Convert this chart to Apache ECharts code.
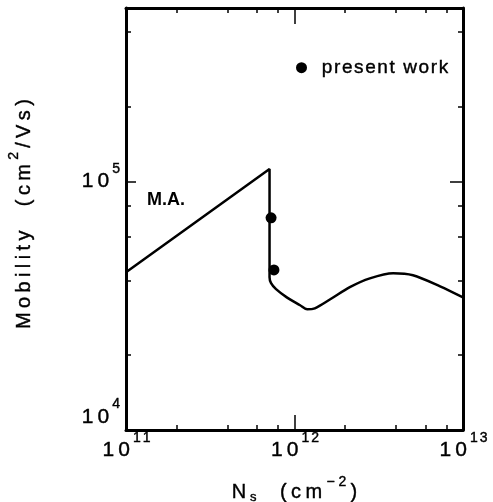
<!DOCTYPE html>
<html>
<head>
<meta charset="utf-8">
<script src="https://cdn.jsdelivr.net/npm/echarts@6/dist/echarts.min.js"></script>
<style>
html,body{margin:0;padding:0;background:#fff;}
#chart{width:493px;height:502px;}
</style>
</head>
<body>
<div id="chart"></div>
<script>
// Data
const curveNs = [1e11, 7.11e11, 7.11e11, 7.26e11, 7.77e11, 9.0e11, 1.08e12, 1.19e12, 1.32e12, 1.63e12, 2.13e12, 2.8e12, 3.85e12, 5.05e12, 7.31e12, 1e13];
const curveMu = [4.32e4, 1.124e5, 4.12e4, 3.90e4, 3.69e4, 3.42e4, 3.18e4, 3.06e4, 3.09e4, 3.36e4, 3.76e4, 4.08e4, 4.28e4, 4.20e4, 3.79e4, 3.42e4];
const presentNs = [7.26e11, 7.55e11];
const presentMu = [7.15e4, 4.41e4];
const xMajorTicks = [1e11, 1e12, 1e13];
const xMinorTicks = [2e11, 4e11, 6e11, 8e11, 2e12, 4e12, 6e12, 8e12];
const yMajorTicks = [1e4, 1e5];
const yMinorTicks = [2e4, 4e4, 6e4, 8e4, 2e5, 4e5];
const maLabelPos = [1.73e11, 8.45e4];

const FONT = 'Liberation Sans';
const INK = {color: '#000', textBorderColor: '#000', textBorderWidth: 0.4};
// letter-spaced text helper (one rich token per character)
const spaced = (str, style) => str.split('').map(c => '{' + style + '|' + c + '}').join('');

const tickRich = {
  b: Object.assign({fontSize: 21, fontFamily: FONT, lineHeight: 21, padding: [0, 2, 0, 2]}, INK),
  s: Object.assign({fontSize: 14, fontFamily: FONT, lineHeight: 14, padding: [0, 1, 25, 1]}, INK),
  b2: Object.assign({fontSize: 21, fontFamily: FONT, lineHeight: 21, padding: [0, 2, 26, 2]}, INK),
  s2: Object.assign({fontSize: 14, fontFamily: FONT, lineHeight: 14, padding: [0, 1, 51, 1]}, INK)
};
const powFmt = v => {
  const e = String(Math.round(Math.log10(v)));
  if (e === '4') return spaced('10', 'b2') + spaced(e, 's2');
  return spaced('10', 'b') + spaced(e, 's');
};
const titleRich = {
  t: Object.assign({fontSize: 20, fontFamily: FONT, lineHeight: 20, padding: [0, 2.2, 0, 2.2]}, INK),
  tStart: Object.assign({fontSize: 20, fontFamily: FONT, lineHeight: 20, padding: [0, 2.2, 0, 12]}, INK),
  sub: Object.assign({fontSize: 13, fontFamily: FONT, lineHeight: 13, padding: [10, 1.5, 0, 1.5]}, INK),
  sup: Object.assign({fontSize: 14, fontFamily: FONT, lineHeight: 14, padding: [0, 2, 20, 2]}, INK)
};

function mkAxis(extra) {
  return Object.assign({
    type: 'log', logBase: 10,
    axisLine: {show: true, lineStyle: {color: '#000', width: 3}},
    splitLine: {show: false},
    minorTick: {show: false},
    axisLabel: {show: false},
    axisTick: {show: true, inside: true, length: 5, lineStyle: {color: '#000', width: 1.5}}
  }, extra);
}

const xAxes = [
  mkAxis({min: 1e11, max: 1e13, position: 'bottom',
    axisTick: {show: true, inside: true, length: 15, customValues: [1e12], lineStyle: {color: '#000', width: 1.5}},
    axisLabel: {show: true, customValues: xMajorTicks, formatter: powFmt, rich: tickRich, margin: 10},
    name: spaced('N', 't') + spaced('s', 'sub') + spaced('  (cm', 't') + spaced('−2', 'sup') + spaced(')', 't'),
    nameLocation: 'middle', nameGap: 38,
    nameTextStyle: {rich: titleRich}
  }),
  mkAxis({min: 1e11, max: 1e13, position: 'bottom', axisLine: {show: false},
    axisTick: {show: true, inside: true, length: 5, customValues: xMinorTicks, lineStyle: {color: '#000', width: 1.5}}}),
  mkAxis({min: 1e11, max: 1e13, position: 'top',
    axisTick: {show: true, inside: true, length: 16, customValues: [1e12], lineStyle: {color: '#000', width: 1.5}}}),
  mkAxis({min: 1e11, max: 1e13, position: 'top', axisLine: {show: false},
    axisTick: {show: true, inside: true, length: 5, customValues: xMinorTicks, lineStyle: {color: '#000', width: 1.5}}})
];

const yAxes = [
  mkAxis({min: 1e4, max: 5e5, position: 'left',
    axisTick: {show: true, inside: true, length: 10, customValues: [1e5], lineStyle: {color: '#000', width: 1.5}},
    axisLabel: {show: true, customValues: yMajorTicks, formatter: powFmt, rich: tickRich, margin: 5},
    name: spaced('M', 'tStart') + spaced('obility  (cm', 't') + spaced('2', 'sup') + spaced('/Vs)', 't'),
    nameLocation: 'middle', nameGap: 92, nameRotate: 90,
    nameTextStyle: {rich: titleRich}
  }),
  mkAxis({min: 1e4, max: 5e5, position: 'left', axisLine: {show: false},
    axisTick: {show: true, inside: true, length: 5, customValues: yMinorTicks, lineStyle: {color: '#000', width: 1.5}}}),
  mkAxis({min: 1e4, max: 5e5, position: 'right',
    axisTick: {show: true, inside: true, length: 13, customValues: [1e5], lineStyle: {color: '#000', width: 1.5}}}),
  mkAxis({min: 1e4, max: 5e5, position: 'right', axisLine: {show: false},
    axisTick: {show: true, inside: true, length: 5, customValues: yMinorTicks, lineStyle: {color: '#000', width: 1.5}}})
];

const chart = echarts.init(document.getElementById('chart'), null, {renderer: 'canvas'});
chart.setOption({
  animation: false,
  backgroundColor: '#fff',
  grid: {left: 126, right: 30, top: 8, bottom: 72, outerBoundsMode: 'none', containLabel: false},
  xAxis: xAxes,
  yAxis: yAxes,
  legend: {
    show: true, left: 291, top: 53, itemWidth: 11, itemHeight: 11, itemGap: 4,
    data: [{name: 'present work', icon: 'circle', itemStyle: {color: '#000', opacity: 1}}],
    formatter: n => spaced(n, 'l'),
    textStyle: {color: '#000', padding: [0, 0, 0, 9], rich: {
      l: Object.assign({fontSize: 19, fontFamily: FONT, lineHeight: 20, padding: [0, 0.8, 0, 0.8]}, INK)
    }}
  },
  series: [
    {
      name: 'M.A.', type: 'line', xAxisIndex: 0, yAxisIndex: 0,
      data: curveNs.map((x, i) => [x, curveMu[i]]),
      smooth: 0.3, symbol: 'none',
      lineStyle: {color: '#000', width: 2.5},
      markPoint: {
        symbol: 'circle', symbolSize: 0,
        label: {show: true, formatter: 'M.A.', fontSize: 18, fontWeight: 'bold', fontFamily: FONT, color: '#000'},
        data: [{coord: maLabelPos}]
      }
    },
    {
      name: 'present work', type: 'scatter', xAxisIndex: 0, yAxisIndex: 0,
      data: presentNs.map((x, i) => [x, presentMu[i]]),
      symbol: 'circle', symbolSize: 11,
      itemStyle: {color: '#000', opacity: 1}
    }
  ]
});
</script>
</body>
</html>
